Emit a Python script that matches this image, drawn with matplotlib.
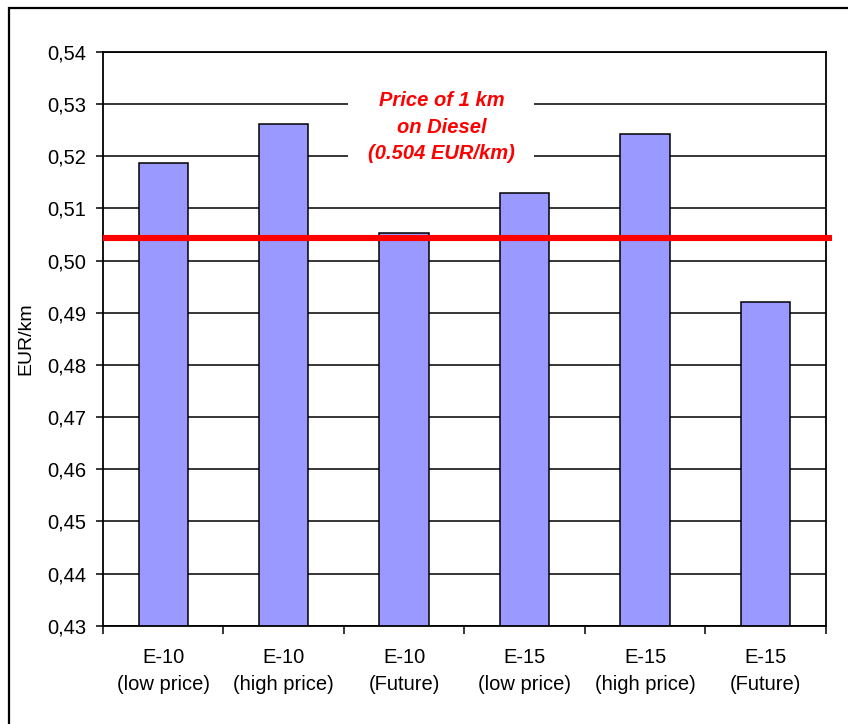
import numpy as np
import matplotlib
matplotlib.use('Agg')
import matplotlib.pyplot as plt
from matplotlib.patches import Rectangle

plt.rcParams['font.family'] = ['Liberation Sans', 'DejaVu Sans']

# data
categories = ['E-10\n(low price)', 'E-10\n(high price)', 'E-10\n(Future)',
              'E-15\n(low price)', 'E-15\n(high price)', 'E-15\n(Future)']
eur_per_km = [0.5188, 0.5261, 0.5052, 0.5130, 0.5242, 0.4920]
diesel_price = 0.5044
yticks = np.arange(0.43, 0.5401, 0.01)

fig = plt.figure(figsize=(8.48, 7.24), dpi=100)
ax = fig.add_axes([103/848, 1-625.7/724, (825.7-103)/848, (625.7-52)/724])

x = np.arange(len(categories))
ax.bar(x, eur_per_km, width=0.41, color='#9999FF', edgecolor='black',
       linewidth=1.1, zorder=2)

# diesel reference line, runs a little past the right axis
ax.plot([-0.5, 5.55], [diesel_price, diesel_price], color='#FF0000',
        linewidth=4.4, solid_capstyle='butt', clip_on=False, zorder=4)

ax.text(2.31, 0.5256, 'Price of 1 km\non Diesel\n(0.504 EUR/km)',
        color='#FF0000', fontsize=14.5, fontweight='bold', fontstyle='italic',
        ha='center', va='center', linespacing=1.5, zorder=3,
        bbox=dict(facecolor='white', edgecolor='none', pad=14))

ax.set_xlim(-0.5, 5.5)
ax.set_ylim(0.43, 0.54)
ax.set_yticks(yticks)
ax.set_yticklabels(['{:.2f}'.format(v).replace('.', ',') for v in yticks])
ax.set_xticks(x)
ax.set_xticklabels(categories, linespacing=1.55)
ax.set_xticks(np.arange(-0.5, 5.6, 1.0), minor=True)
ax.tick_params(axis='x', which='major', length=0, pad=16, labelsize=14.5)
ax.tick_params(axis='x', which='minor', length=5.5, width=1.1, direction='out')
ax.tick_params(axis='y', length=5, width=1.1, pad=7, labelsize=14.5)

ax.yaxis.grid(True, color='black', linewidth=1.1, zorder=0.5)
ax.set_axisbelow(True)
for s in ax.spines.values():
    s.set_linewidth(1.3)

ax.set_ylabel('EUR/km', fontsize=14, labelpad=9)

# outer frame of the chart area (right and bottom edges fall outside)
fig.add_artist(Rectangle((9/848, -0.1), 1.0, 1 - 8/724 + 0.1,
                         transform=fig.transFigure, fill=False,
                         edgecolor='black', linewidth=1.6))

fig.savefig('out.png', dpi=100)
